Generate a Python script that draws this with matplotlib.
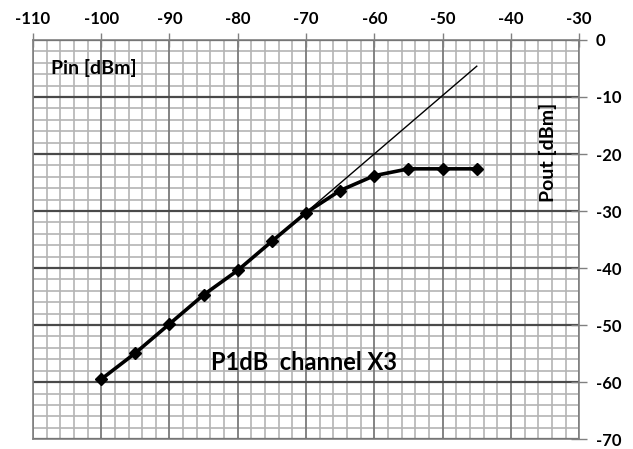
import matplotlib
matplotlib.use('Agg')
import matplotlib.pyplot as plt
import numpy as np

plt.rcParams['font.family'] = ['Lato', 'DejaVu Sans']

# measured P1dB curve
pin = [-100, -95, -90, -85, -80, -75, -70, -65, -60, -55, -50, -45]
pout = [-59.5, -54.9, -49.8, -44.7, -40.4, -35.3, -30.3, -26.4, -23.8, -22.6, -22.6, -22.6]

# ideal linear response (hidden under the thick curve below -70)
ideal_x = [-76, -45]
ideal_y = [-36.4, -4.6]

x_ticks = [-110, -100, -90, -80, -70, -60, -50, -40, -30]
y_ticks = [0, -10, -20, -30, -40, -50, -60, -70]

fig = plt.figure(figsize=(6.33, 4.49), dpi=100)
ax = fig.add_axes([0.052, 0.022, 0.863, 0.889])

ax.set_xlim(-110, -30)
ax.set_ylim(-70, 0)

# graph-paper grid
for v in np.arange(-110, -29, 2):
    if v % 10 == 0:
        ax.axvline(v, color='#7a7a7a', lw=1.3, zorder=1)
    else:
        ax.axvline(v, color='#b4b4b4', lw=1.2, zorder=0)
for v in np.arange(-70, 1, 2):
    if v % 10 == 0:
        ax.axhline(v, color='#4a4a4a', lw=1.6, zorder=1)
    else:
        ax.axhline(v, color='#b4b4b4', lw=1.2, zorder=0)

ax.plot(ideal_x, ideal_y, color='black', lw=1.0, zorder=3)
ax.plot(pin, pout, color='black', lw=2.6, marker='D', markersize=6.5, zorder=4)

ax.xaxis.tick_top()
ax.yaxis.tick_right()
ax.set_xticks(x_ticks)
ax.set_yticks(y_ticks)
ax.set_xticklabels([str(t) for t in x_ticks], fontsize=12, fontweight='bold')
ax.set_yticklabels([str(t) for t in y_ticks], fontsize=12, fontweight='bold')
ax.tick_params(axis='x', direction='inout', length=10, width=1, color='#808080', pad=4)
ax.tick_params(axis='y', direction='inout', length=12, width=1, color='#808080', pad=6)

for s in ax.spines.values():
    s.set_color('#808080')
    s.set_linewidth(1.2)

ax.text(-107.4, -4.9, 'Pin [dBm]', fontsize=14, fontweight='bold', va='center', ha='left', zorder=5)
ax.text(-34.5, -19.8, 'Pout [dBm]', fontsize=14, fontweight='bold', rotation=90,
        va='center', ha='center', zorder=5)
ax.text(-70.3, -56.5, 'P1dB  channel X3', fontsize=17, fontweight='bold', va='center',
        ha='center', zorder=5)

fig.savefig('out.png', dpi=100)
